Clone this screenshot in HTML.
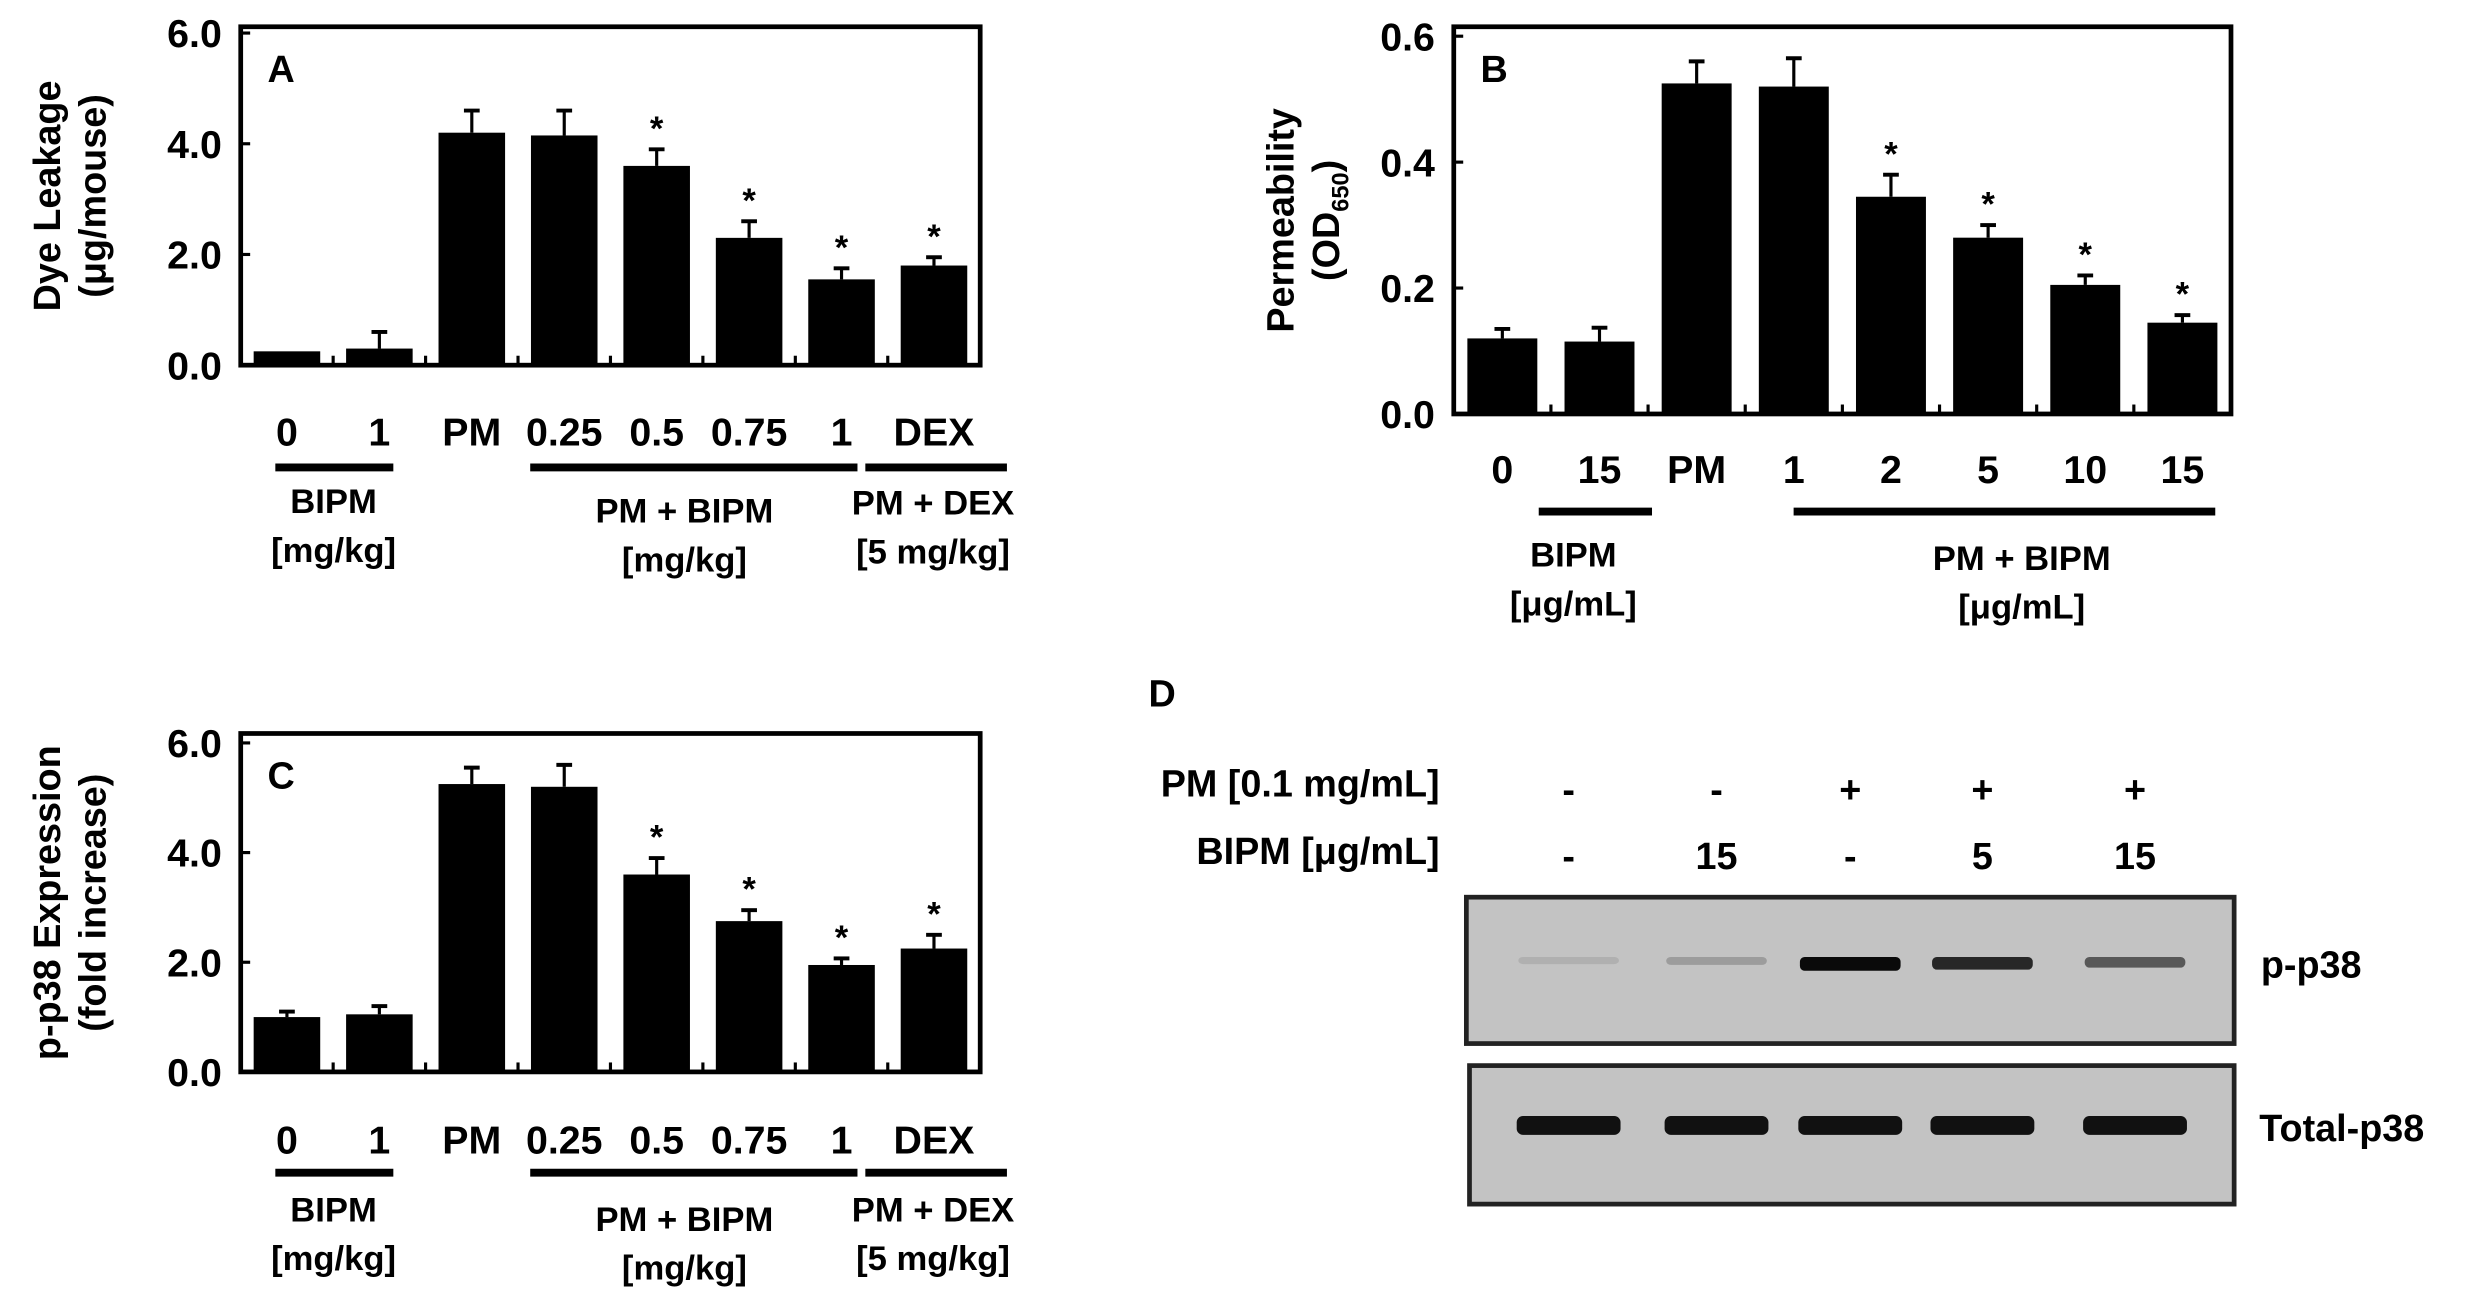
<!DOCTYPE html>
<html><head><meta charset="utf-8"><style>
html,body{margin:0;padding:0;background:#fff;}
svg{display:block;}
text{font-family:"Liberation Sans",Arial,sans-serif;font-weight:bold;fill:#000;}
</style></head><body>
<svg id="fig" width="2467" height="1308" viewBox="0 0 1568 831" preserveAspectRatio="none" xmlns="http://www.w3.org/2000/svg"></svg>
<script>
// Panel A data
const catsA = ["0","1","PM","0.25","0.5","0.75","1","DEX"];
const valsA = [0.25,0.3,4.2,4.15,3.6,2.3,1.55,1.8];
const errA = [0,0.3,0.4,0.45,0.3,0.3,0.2,0.15];
const sigA = [false,false,false,false,true,true,true,true];
const ticksA = ["0.0","2.0","4.0","6.0"];
// Panel B data
const catsB = ["0","15","PM","1","2","5","10","15"];
const valsB = [0.12,0.115,0.525,0.52,0.345,0.28,0.205,0.145];
const errB = [0.015,0.022,0.035,0.045,0.035,0.02,0.015,0.012];
const sigB = [false,false,false,false,true,true,true,true];
const ticksB = ["0.0","0.2","0.4","0.6"];
// Panel C data
const catsC = ["0","1","PM","0.25","0.5","0.75","1","DEX"];
const valsC = [1.0,1.05,5.25,5.2,3.6,2.75,1.95,2.25];
const errC = [0.1,0.15,0.3,0.4,0.3,0.2,0.12,0.25];
const sigC = [false,false,false,false,true,true,true,true];
const ticksC = ["0.0","2.0","4.0","6.0"];
// Panel D data
const pmRow = ["-","-","+","+","+"];
const bipmRow = ["-","15","-","5","15"];
const pp38 = [0.1,0.2,0.95,0.8,0.55];
const total = [1,1,1,1,1];

const NS="http://www.w3.org/2000/svg";
const svg=document.getElementById('fig');
function mk(tag,attrs,parent){const e=document.createElementNS(NS,tag);for(const k in attrs)e.setAttribute(k,attrs[k]);(parent||svg).appendChild(e);return e;}
function txt(s,x,y,size,anchor,parent){const t=mk('text',{x:x,y:y,'font-size':size,'text-anchor':anchor||'middle'},parent);t.textContent=s;return t;}

function barPanel(o){
  const g=mk('g',{});
  
  
  const n=o.cats.length, L=o.left,R=o.right,T=o.top,B=o.bottom;
  const step=(R-L)/n;
  const xc=i=>L+step*(i+0.5);
  const y=v=>B-(v/o.max)*(B-o.yTop);
  o.vals.forEach((v,i)=>{
    const w=step*0.72;
    const r=mk('rect',{x:xc(i)-w/2,y:y(v),width:w,height:B-y(v),fill:'#000'},g);
    
    
    const e=o.err[i];
    if(e>0){
      mk('line',{x1:xc(i),x2:xc(i),y1:y(v),y2:y(v+e),stroke:'#000','stroke-width':2},g);
      mk('line',{x1:xc(i)-5,x2:xc(i)+5,y1:y(v+e),y2:y(v+e),stroke:'#000','stroke-width':2.5},g);
    }
    if(o.sig[i]){const s=txt('*',xc(i),y(v+e)-6,22,'middle',g);
      
      }
  });
  const f=mk('rect',{x:L,y:T,width:R-L,height:B-T,fill:'none',stroke:'#000','stroke-width':3},g);
  
  
  for(let i=1;i<n;i++){mk('line',{x1:L+step*i,x2:L+step*i,y1:B,y2:B-6,stroke:'#000','stroke-width':2},g);}
  o.ticks.forEach((t,i)=>{const v=parseFloat(t);const yy=y(v);
    mk('line',{x1:L,x2:L+6,y1:yy,y2:yy,stroke:'#000','stroke-width':2},g);
    const tl=txt(t,L-12,yy+9,25,'end',g);
    
    
  });
  txt(o.letter,L+17,T+35,24,'start',g);
  o.cats.forEach((c,i)=>{const cl=txt(c,xc(i),o.catY,25,'middle',g);
    
    });
  const yt=mk('g',{transform:'translate('+o.titleX+','+((T+B)/2)+') rotate(-90)'},g);
  
  
  o.title.forEach((s,k)=>{const t=txt('',0,k*29,24,'middle',yt);t.innerHTML=s;});
  return {g,xc};
}

barPanel({name:'panel-a-chart',letter:'A',cats:catsA,vals:valsA,err:errA,sig:sigA,ticks:ticksA,max:6,
 left:153,right:623,top:17,bottom:232,yTop:21,catY:283,titleX:38,
 title:['Dye Leakage','(μg/mouse)']});
barPanel({name:'panel-b-chart',letter:'B',cats:catsB,vals:valsB,err:errB,sig:sigB,ticks:ticksB,max:0.6,
 left:924,right:1418,top:17,bottom:263,yTop:23,catY:307,titleX:822,
 title:['Permeability','(OD<tspan font-size="15" dy="6">650</tspan><tspan dy="-6">)</tspan>']});
barPanel({name:'panel-c-chart',letter:'C',cats:catsC,vals:valsC,err:errC,sig:sigC,ticks:ticksC,max:6,
 left:153,right:623,top:466,bottom:681,yTop:472,catY:733,titleX:38,
 title:['p-p38 Expression','(fold increase)']});

function groupLine(x1,x2,y){const l=mk('line',{x1:x1,x2:x2,y1:y,y2:y,stroke:'#000','stroke-width':5});
 
 }
function gl(lines,x,y){lines.forEach((s,k)=>{const t=txt(s,x,y+k*31,22,'middle');
 
 });}
groupLine(175,250,297);groupLine(337,545,297);groupLine(550,640,297);
gl(['BIPM','[mg/kg]'],212,326);gl(['PM + BIPM','[mg/kg]'],435,332);gl(['PM + DEX','[5 mg/kg]'],593,327);
groupLine(175,250,745);groupLine(337,545,745);groupLine(550,640,745);
gl(['BIPM','[mg/kg]'],212,776);gl(['PM + BIPM','[mg/kg]'],435,782);gl(['PM + DEX','[5 mg/kg]'],593,776);
groupLine(978,1050,325);groupLine(1140,1408,325);
gl(['BIPM','[μg/mL]'],1000,360);gl(['PM + BIPM','[μg/mL]'],1285,362);

const D=mk('g',{});


txt('D',730,449,24,'start',D);
txt('PM [0.1 mg/mL]',915,506,24,'end',D);
txt('BIPM [μg/mL]',915,549,24,'end',D);
const laneX=[997,1091,1176,1260,1357];
pmRow.forEach((s,i)=>txt(s,laneX[i],510,24,'middle',D));
bipmRow.forEach((s,i)=>txt(s,laneX[i],552,24,'middle',D));
const b1=mk('rect',{x:932,y:570,width:488,height:93,fill:'#c3c3c3',stroke:'#222','stroke-width':3},D);


const b2=mk('rect',{x:934,y:677,width:486,height:88,fill:'#c3c3c3',stroke:'#222','stroke-width':3},D);


pp38.forEach((v,i)=>{const c=Math.round(195-195*v);
 const r=mk('rect',{x:laneX[i]-32,y:608,width:64,height:4+5*v,rx:3,fill:'rgb('+c+','+c+','+c+')'},D);
 
 });
total.forEach((v,i)=>{const r=mk('rect',{x:laneX[i]-33,y:709,width:66,height:12*v,rx:4,fill:'#111'},D);
 
 });
txt('p-p38',1437,621,24,'start',D);
txt('Total-p38',1436,725,24,'start',D);
</script>
</body></html>
